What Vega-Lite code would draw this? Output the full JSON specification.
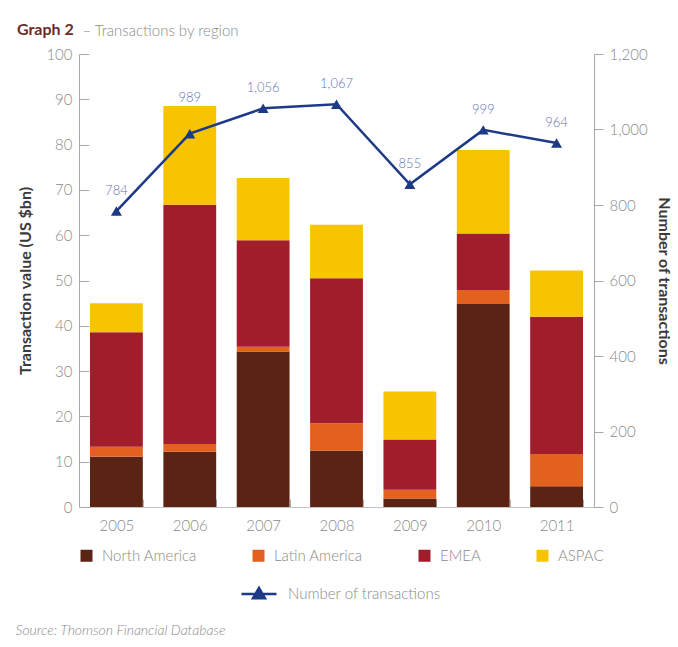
{
  "$schema": "https://vega.github.io/schema/vega-lite/v6.json",
  "width": 515,
  "height": 453,
  "autosize": {"type": "none"},
  "padding": {"left": 79, "top": 54, "right": 84, "bottom": 140},
  "background": "white",
  "config": {
    "view": {"stroke": null},
    "font": "Lato",
    "axis": {
      "labelFont": "Lato",
      "labelFontWeight": 300,
      "labelFontSize": 15,
      "labelColor": "#8a8a8a",
      "domainColor": "#a8a8a8",
      "tickColor": "#a8a8a8",
      "grid": false,
      "titleFont": "Lato",
      "titleFontSize": 16,
      "titleFontWeight": "bold",
      "titleColor": "#3a3a3a"
    },
    "legend": {
      "labelFont": "Lato",
      "labelFontWeight": 300,
      "labelFontSize": 15,
      "labelColor": "#8a8a8a"
    }
  },
  "title": {
    "text": "Graph 2",
    "anchor": "start",
    "frame": "group",
    "dx": -62,
    "offset": -15,
    "font": "Lato",
    "fontSize": 16,
    "fontWeight": "bold",
    "color": "#6b2a2a"
  },
  "datasets": {
    "regions": [
      {"year": "2005", "region": "North America", "k": 1, "value": 11.1},
      {"year": "2005", "region": "Latin America", "k": 2, "value": 2.2},
      {"year": "2005", "region": "EMEA", "k": 3, "value": 25.3},
      {"year": "2005", "region": "ASPAC", "k": 4, "value": 6.4},
      {"year": "2006", "region": "North America", "k": 1, "value": 12.2},
      {"year": "2006", "region": "Latin America", "k": 2, "value": 1.7},
      {"year": "2006", "region": "EMEA", "k": 3, "value": 52.8},
      {"year": "2006", "region": "ASPAC", "k": 4, "value": 21.8},
      {"year": "2007", "region": "North America", "k": 1, "value": 34.3},
      {"year": "2007", "region": "Latin America", "k": 2, "value": 1.1},
      {"year": "2007", "region": "EMEA", "k": 3, "value": 23.5},
      {"year": "2007", "region": "ASPAC", "k": 4, "value": 13.7},
      {"year": "2008", "region": "North America", "k": 1, "value": 12.4},
      {"year": "2008", "region": "Latin America", "k": 2, "value": 6.1},
      {"year": "2008", "region": "EMEA", "k": 3, "value": 32.0},
      {"year": "2008", "region": "ASPAC", "k": 4, "value": 11.8},
      {"year": "2009", "region": "North America", "k": 1, "value": 1.9},
      {"year": "2009", "region": "Latin America", "k": 2, "value": 1.9},
      {"year": "2009", "region": "EMEA", "k": 3, "value": 11.1},
      {"year": "2009", "region": "ASPAC", "k": 4, "value": 10.6},
      {"year": "2010", "region": "North America", "k": 1, "value": 44.8},
      {"year": "2010", "region": "Latin America", "k": 2, "value": 3.1},
      {"year": "2010", "region": "EMEA", "k": 3, "value": 12.5},
      {"year": "2010", "region": "ASPAC", "k": 4, "value": 18.4},
      {"year": "2011", "region": "North America", "k": 1, "value": 4.6},
      {"year": "2011", "region": "Latin America", "k": 2, "value": 7.1},
      {"year": "2011", "region": "EMEA", "k": 3, "value": 30.3},
      {"year": "2011", "region": "ASPAC", "k": 4, "value": 10.2}
    ],
    "deals": [
      {"year": "2005", "count": 784},
      {"year": "2006", "count": 989},
      {"year": "2007", "count": 1056},
      {"year": "2008", "count": 1067},
      {"year": "2009", "count": 855},
      {"year": "2010", "count": 999},
      {"year": "2011", "count": 964}
    ]
  },
  "layer": [
    {
      "data": {"name": "regions"},
      "mark": {"type": "bar"},
      "encoding": {
        "x": {
          "field": "year",
          "type": "ordinal",
          "scale": {"paddingInner": 0.28, "paddingOuter": 0.15},
          "axis": {
            "labelAngle": 0,
            "labelPadding": 19,
            "tickBand": "extent",
            "tickSize": -8,
            "domainColor": "#c4c4c4",
            "tickColor": "#b0b0b0",
            "title": "Source: Thomson Financial Database",
            "titleFont": "Lato",
            "titleFontSize": 14,
            "titleFontStyle": "italic",
            "titleFontWeight": 300,
            "titleColor": "#8a8a8a",
            "titleAnchor": "start",
            "titleAlign": "left",
            "titleBaseline": "middle",
            "titleX": -64,
            "titleY": 123
          }
        },
        "y": {
          "field": "value",
          "type": "quantitative",
          "stack": "zero",
          "scale": {"domain": [0, 100], "nice": false},
          "axis": {
            "title": "Transaction value (US $bn)",
            "values": [0, 10, 20, 30, 40, 50, 60, 70, 80, 90, 100],
            "tickSize": -10,
            "labelPadding": 17,
            "titlePadding": 12
          }
        },
        "color": {
          "field": "region",
          "type": "nominal",
          "scale": {
            "domain": ["North America", "Latin America", "EMEA", "ASPAC"],
            "range": ["#5a2314", "#e2611f", "#a11d2c", "#f8c400"]
          },
          "legend": {
            "title": null,
            "orient": "none",
            "direction": "horizontal",
            "legendX": 0,
            "legendY": 494,
            "columns": 4,
            "columnPadding": 54,
            "symbolType": "square",
            "symbolSize": 144,
            "symbolStrokeWidth": 0,
            "labelOffset": 8
          }
        },
        "order": {"field": "k", "type": "quantitative", "sort": "ascending"}
      }
    },
    {
      "data": {"name": "deals"},
      "encoding": {
        "x": {
          "field": "year",
          "type": "ordinal",
          "axis": {
            "orient": "top",
            "labels": false,
            "ticks": false,
            "domain": false,
            "title": "– Transactions by region",
            "titleFont": "Lato",
            "titleFontSize": 15,
            "titleFontWeight": 300,
            "titleColor": "#8a8a8a",
            "titleAnchor": "start",
            "titleAlign": "left",
            "titleBaseline": "middle",
            "titleX": 3,
            "titleY": -24
          }
        },
        "y": {
          "field": "count",
          "type": "quantitative",
          "scale": {"domain": [0, 1200], "nice": false},
          "axis": {
            "orient": "right",
            "title": "Number of transactions",
            "values": [0, 200, 400, 600, 800, 1000, 1200],
            "format": ",.0f",
            "tickSize": 9,
            "labelPadding": 6,
            "titlePadding": 8
          }
        }
      },
      "layer": [
        {
          "mark": {"type": "line", "strokeWidth": 2.5},
          "encoding": {
            "stroke": {
              "datum": "Number of transactions",
              "scale": {"range": ["#1d3a86"]},
              "legend": {
                "title": null,
                "orient": "none",
                "legendX": 161,
                "legendY": 521,
                "symbolType": "M-1,0H1M-0.34,0.24L0,-0.34L0.34,0.24Z",
                "symbolSize": 1225,
                "symbolStrokeWidth": 2.5,
                "symbolFillColor": "#1d3a86",
                "labelOffset": 10
              }
            }
          }
        },
        {
          "mark": {"type": "point", "shape": "triangle-up", "filled": true, "size": 120, "color": "#1d3a86", "opacity": 1},
          "encoding": {}
        },
        {
          "transform": [{"filter": "datum.year != '2006'"}],
          "mark": {"type": "text", "dy": -20, "font": "Lato", "fontSize": 13, "fontWeight": 300, "color": "#6674b2"},
          "encoding": {"text": {"field": "count", "type": "quantitative", "format": ","}}
        },
        {
          "transform": [{"filter": "datum.year == '2006'"}],
          "mark": {"type": "text", "dy": -36, "font": "Lato", "fontSize": 13, "fontWeight": 300, "color": "#6674b2"},
          "encoding": {"text": {"field": "count", "type": "quantitative", "format": ","}}
        }
      ]
    }
  ],
  "resolve": {"scale": {"y": "independent"}, "axis": {"x": "independent"}}
}
